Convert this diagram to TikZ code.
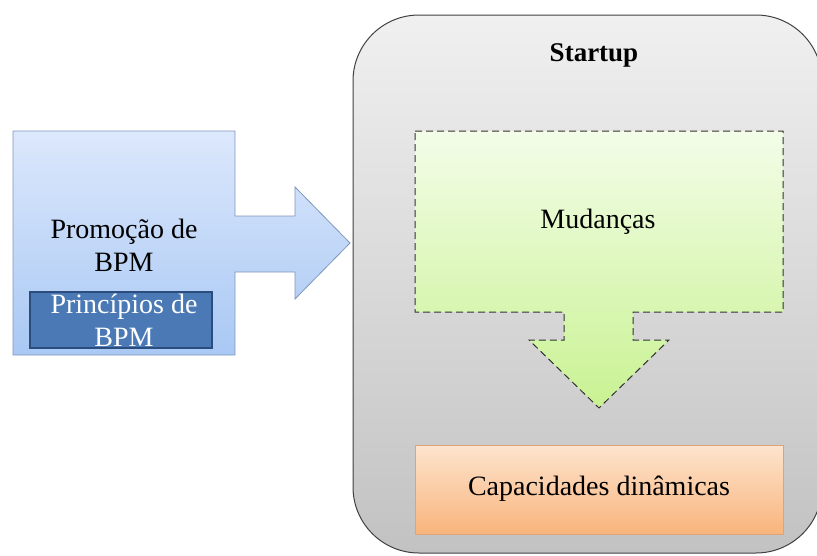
\documentclass[tikz,border=0pt]{standalone}
\usepackage{fontspec}
\setmainfont{Liberation Serif}
\definecolor{bluetop}{HTML}{DCE8FC}
\definecolor{bluebot}{HTML}{A9C8F4}
\definecolor{blueedge}{HTML}{7F97BD}
\definecolor{innerfill}{HTML}{4A79B5}
\definecolor{inneredge}{HTML}{2B4D7E}
\definecolor{greentop}{HTML}{F3FDE8}
\definecolor{greenbot}{HTML}{C9F292}
\definecolor{orangetop}{HTML}{FDE4CE}
\definecolor{orangebot}{HTML}{F9B47C}
\definecolor{orangeedge}{HTML}{D9A579}
\definecolor{greytop}{HTML}{F0F0F0}
\definecolor{greybot}{HTML}{C2C2C2}
\begin{document}
\begin{tikzpicture}[x=1pt,y=-1pt,
  txt/.style={font=\fontsize{28}{33}\selectfont, align=center, inner sep=0pt},
  startupbox/.style={draw=black!75, line width=1pt, top color=greytop, bottom color=greybot},
  bluearrow/.style={draw=blueedge, line width=0.8pt, top color=bluetop, bottom color=bluebot},
  greenarrow/.style={draw=black!80, dash pattern=on 7pt off 4pt, line width=1pt, top color=greentop, bottom color=greenbot},
  orangebox/.style={draw=orangeedge, line width=0.8pt, top color=orangetop, bottom color=orangebot},
  innerbox/.style={draw=inneredge, line width=1.2pt, fill=innerfill}
]
\useasboundingbox (0,0) rectangle (817,555);
\clip (0,0) rectangle (817,555);
% container
\draw[startupbox, rounded corners=66pt] (353,15) rectangle (822,553);
\node[txt, font=\fontsize{27}{32}\selectfont\bfseries] (startup) at (594,55) {Startup};
% blue arrow
\draw[bluearrow] (13,131) -- (235,131) -- (235,216) -- (295,216) -- (295,187) -- (350,243)
  -- (295,299) -- (295,272) -- (235,272) -- (235,355) -- (13,355) -- cycle;
\node[txt] (promo) at (124,245) {Promoção de\\BPM};
\draw[innerbox] (30,292) rectangle (212,348);
\node[txt, text=white] (princ) at (124,320) {Princípios de\\BPM};
% green arrow
\draw[greenarrow] (415,131) -- (783,131) -- (783,312) -- (633,312) -- (633,340) -- (669,340)
  -- (599,408) -- (529,340) -- (564,340) -- (564,312) -- (415,312) -- cycle;
\node[txt] (mud) at (598,222) {Mudanças};
% orange box
\draw[orangebox] (415,445) rectangle (783,534);
\node[txt] (cap) at (599,489) {Capacidades dinâmicas};
\end{tikzpicture}
\end{document}
